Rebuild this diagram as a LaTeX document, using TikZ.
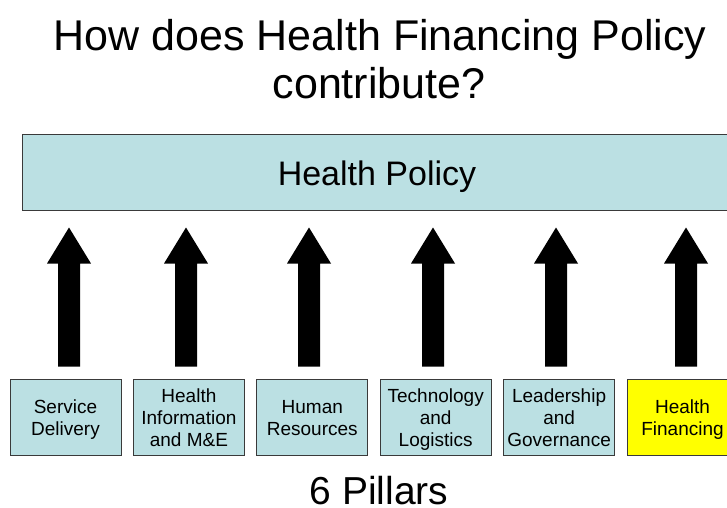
\documentclass[tikz,border=0pt]{standalone}
\usepackage{fontspec}
\setmainfont{Liberation Sans}
\usetikzlibrary{calc}
\definecolor{boxcyan}{HTML}{BBE0E3}
\definecolor{boxedge}{HTML}{3A3A3A}
\definecolor{finyellow}{HTML}{FFFF00}
\newcommand\topstrut{\rule{0pt}{21.4pt}}
\tikzset{
  pillar/.style={draw=boxedge, line width=0.9pt, fill=boxcyan, minimum width=111pt, minimum height=76pt,
    inner sep=0pt, align=center, font=\fontsize{19}{22}\selectfont},
  policybox/.style={draw=boxedge, line width=1pt, fill=boxcyan, minimum width=710pt, minimum height=76pt, inner sep=0pt},
  bigtext/.style={anchor=base, inner sep=0pt, font=\fontsize{43}{50}\selectfont},
  arrowfill/.style={fill=black}
}
\newcommand\pillararrow[2]{%
  \fill[arrowfill] let \p1=(#1.north), \p2=(policy.south) in
    (\x1+#2-11pt, \y1+12pt) -- (\x1+#2-11pt, \y2-53pt) -- (\x1+#2-22pt, \y2-53pt)
    -- (\x1+#2, \y2-17pt) -- (\x1+#2+22pt, \y2-53pt) -- (\x1+#2+11pt, \y2-53pt)
    -- (\x1+#2+11pt, \y1+12pt) -- cycle;}
\begin{document}
\begin{tikzpicture}[x=1pt,y=-1pt]
\useasboundingbox (0,0) rectangle (727,507);
\node[bigtext] (title1) at (380,50) {How does Health Financing Policy};
\node[bigtext] (title2) at (379,98) {contribute?};
\node[policybox] (policy) at (377,172) {};
\node[anchor=base, inner sep=0pt, font=\fontsize{34}{40}\selectfont] (policytext) at (377,185) {Health Policy};
\node[pillar] (p1) at (65.5,417) {\topstrut Service\\Delivery\strut};
\node[pillar] (p2) at (188.9,417) {\topstrut Health\\Information\\and M\&E\strut};
\node[pillar] (p3) at (312.3,417) {\topstrut Human\\Resources\strut};
\node[pillar] (p4) at (435.7,417) {\topstrut Technology\\and\\Logistics\strut};
\node[pillar] (p5) at (559.1,417) {\topstrut Leadership\\and\\Governance\strut};
\node[pillar, fill=finyellow] (p6) at (682.5,417) {\topstrut Health\\Financing\strut};
\pillararrow{p1}{3.5pt}
\pillararrow{p2}{-2.9pt}
\pillararrow{p3}{-3.3pt}
\pillararrow{p4}{-2.7pt}
\pillararrow{p5}{-3.1pt}
\pillararrow{p6}{3.5pt}
\node[anchor=base, inner sep=0pt, font=\fontsize{39}{45}\selectfont] (pillars) at (379,504) {6 Pillars};
\end{tikzpicture}
\end{document}
